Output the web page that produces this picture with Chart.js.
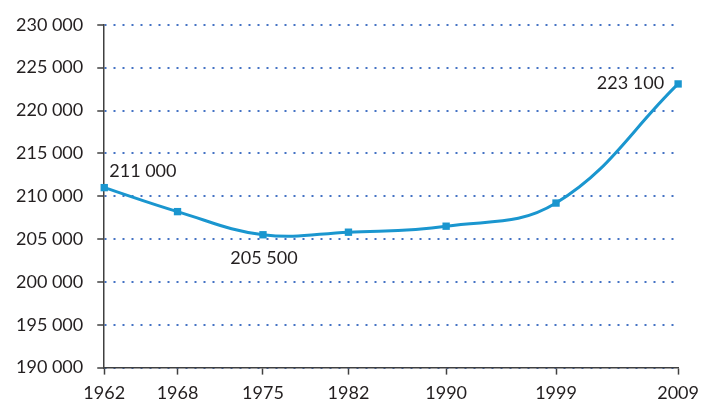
<!DOCTYPE html>
<html>
<head>
<meta charset="utf-8">
<script src="https://cdn.jsdelivr.net/npm/chart.js@4/dist/chart.umd.min.js"></script>
<style>
html,body{margin:0;padding:0;background:#fff;}
#wrap{width:701px;height:403px;}
</style>
</head>
<body>
<div id="wrap"><canvas id="c" width="701" height="403"></canvas></div>
<script>
const years = [1962, 1968, 1975, 1982, 1990, 1999, 2009];
const population = [211000, 208200, 205500, 205800, 206500, 209200, 223100];
const valueLabels = ["211 000", null, "205 500", null, null, null, "223 100"];
const yTicks = [190000, 195000, 200000, 205000, 210000, 215000, 220000, 225000, 230000];

const FONT = "Lato, 'Open Sans', sans-serif";
const fmt = v => String(v).replace(/\B(?=(\d{3})+(?!\d))/g, ' ');

// label placement style (not data)
const labelPlace = [
  {dx: 5, dy: -16, align: 'left'},
  null,
  {dx: 1, dy: 23, align: 'center'},
  null, null, null,
  {dx: -14, dy: -1, align: 'right'}
];

const labelPlugin = {
  id: 'valueLabels',
  afterDatasetsDraw(chart) {
    const ctx = chart.ctx;
    const meta = chart.getDatasetMeta(0);
    ctx.save();
    ctx.font = "18px " + FONT;
    ctx.fillStyle = '#231f20';
    ctx.textBaseline = 'middle';
    meta.data.forEach((pt, i) => {
      const t = valueLabels[i];
      if (!t) return;
      const p = labelPlace[i];
      ctx.textAlign = p.align;
      ctx.fillText(t, pt.x + p.dx, pt.y + p.dy);
    });
    ctx.restore();
  }
};

new Chart(document.getElementById('c'), {
  type: 'line',
  data: {
    datasets: [{
      data: years.map((y, i) => ({x: y, y: population[i]})),
      borderColor: '#1a96cf',
      backgroundColor: '#1a96cf',
      borderWidth: 3,
      tension: 0.4,
      pointStyle: 'rect',
      pointRadius: 5.2,
      pointBorderWidth: 0,
      clip: false,
      fill: false
    }]
  },
  plugins: [labelPlugin],
  options: {
    responsive: false,
    animation: false,
    layout: {padding: {left: 2, right: 14, top: 22, bottom: -8}},
    plugins: {legend: {display: false}, tooltip: {enabled: false}},
    scales: {
      x: {
        type: 'linear',
        min: 1962,
        max: 2009,
        afterBuildTicks: (axis) => { axis.ticks = years.map(v => ({value: v})); },
        ticks: {
          autoSkip: false,
          maxRotation: 0,
          color: '#231f20',
          font: {family: FONT, size: 18, lineHeight: 1.8},
          padding: 2,
          callback: v => String(v)
        },
        grid: {
          drawOnChartArea: false,
          drawTicks: true,
          tickLength: 7,
          tickColor: '#404040',
          tickWidth: 1.5
        },
        border: {display: true, color: '#404040', width: 1.5}
      },
      y: {
        min: 190000,
        max: 230000,
        afterBuildTicks: (axis) => { axis.ticks = yTicks.map(v => ({value: v})); },
        ticks: {
          color: '#231f20',
          font: {family: FONT, size: 18},
          padding: 14,
          callback: v => fmt(v)
        },
        grid: {
          color: '#4472c4',
          lineWidth: 2,
          drawTicks: true,
          tickLength: 7,
          tickColor: '#404040',
          tickWidth: 1.5,
          tickBorderDash: [],
          tickBorderDashOffset: 0
        },
        border: {display: true, color: '#404040', width: 1.5, dash: [2, 7]}
      }
    }
  }
});
</script>
</body>
</html>
